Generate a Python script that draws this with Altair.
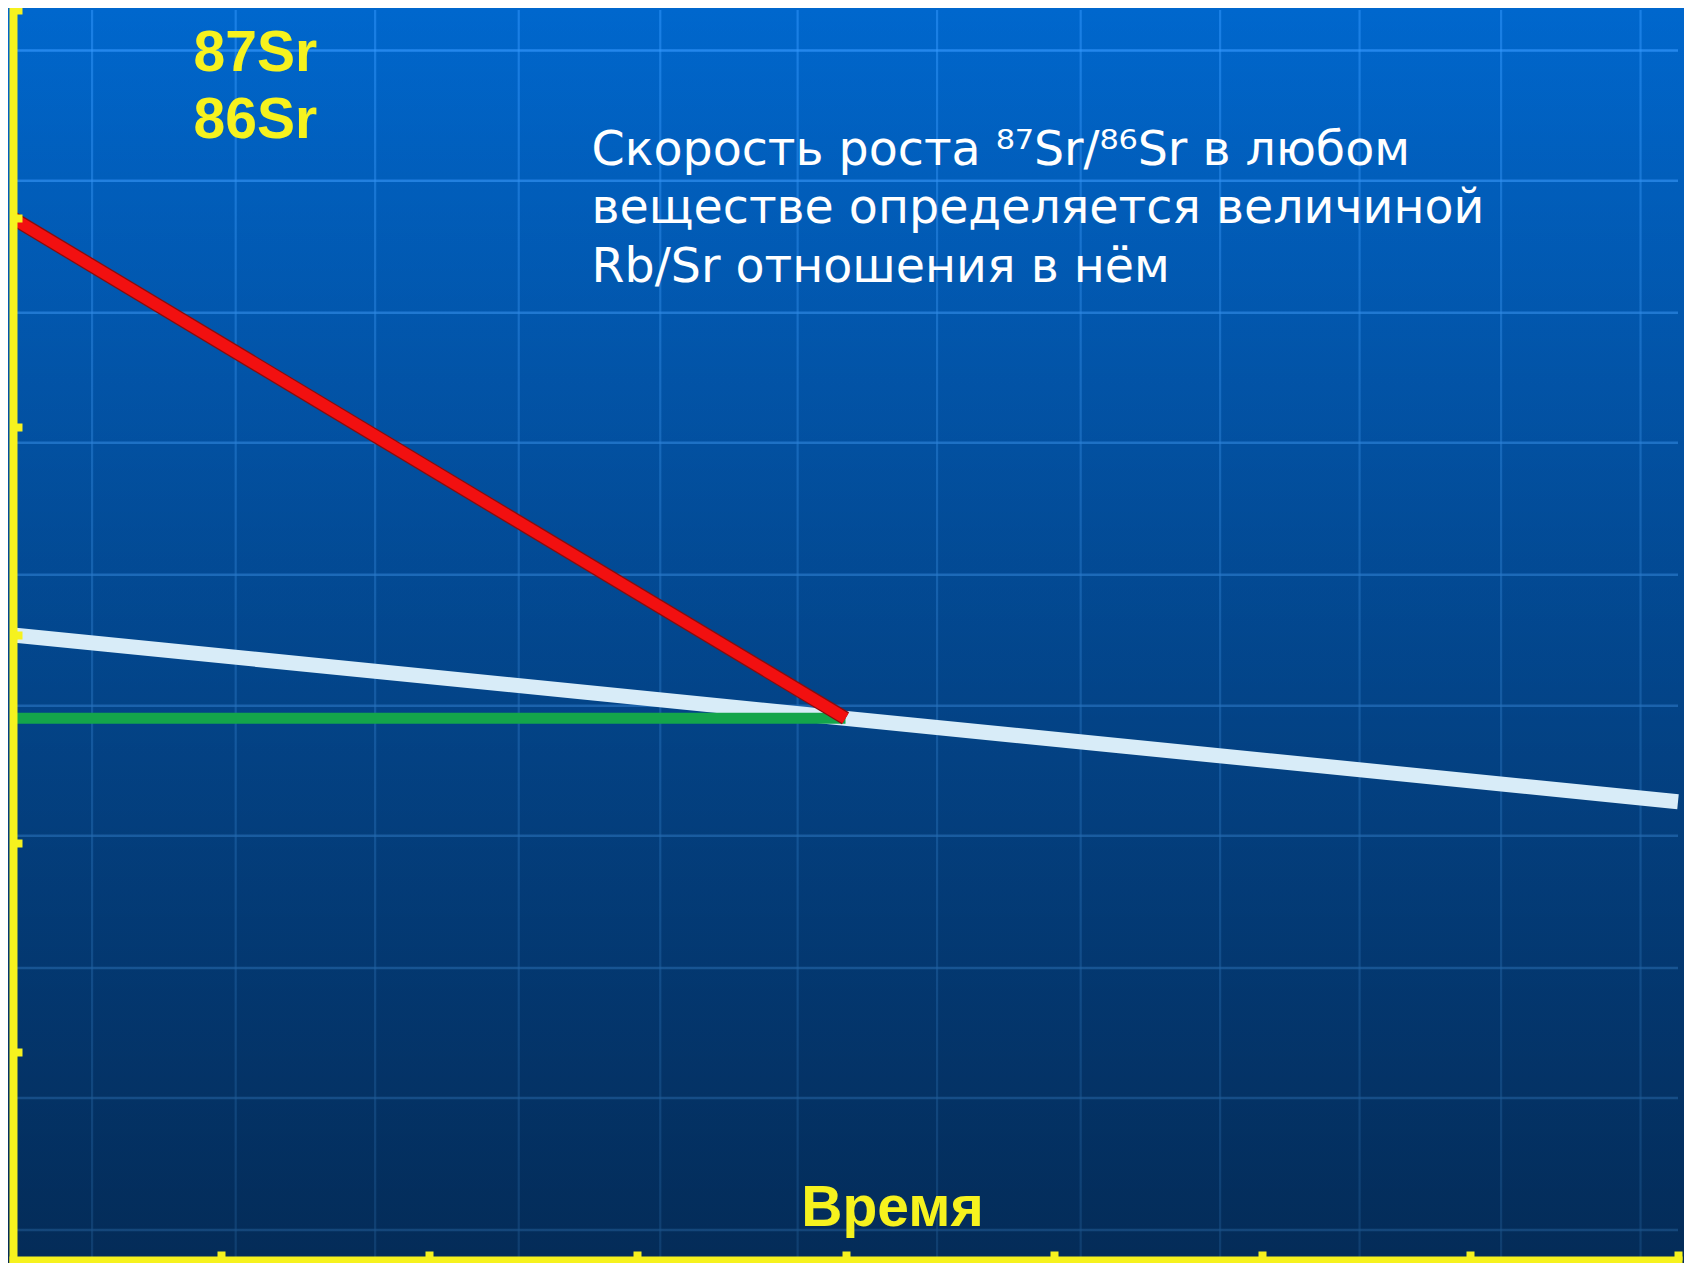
import altair as alt
import pandas as pd

# ---- data (axis units: time 0..8, ratio 0..6) ----
red_x = [0.0, 4.0]
red_y = [5.0, 2.6]
white_x = [0.0, 8.0]
white_y = [3.0, 2.2]
green_x = [0.0, 4.0]
green_y = [2.6, 2.6]

x_tick_values = [1, 2, 3, 4, 5, 6, 7, 8]
y_tick_values = [1, 2, 3, 4, 5, 6]

# decorative background grid of the slide
bg_hlines = [5.806, 5.180, 4.547, 3.923, 3.289, 2.660, 2.036, 1.402, 0.778, 0.144]
bg_vlines = [0.38, 1.07, 1.74, 2.43, 3.11, 3.77, 4.44, 5.13, 5.80, 6.47, 7.15, 7.82]

x_title = "Время"
y_title = ["87Sr", "86Sr"]
note_lines = [
    "Скорость роста ⁸⁷Sr/⁸⁶Sr в любом",
    "веществе определяется величиной",
    "Rb/Sr отношения в нём",
]
note_x = [2.78]
note_y = [5.257]

# ---- layout ----
W, H = 1665, 1250
PAD = {"left": 5, "top": 2, "right": 6, "bottom": 3}
YEL = "#F6F21E"

xs = alt.Scale(domain=[0, 8], nice=False, zero=False)
ys = alt.Scale(domain=[0, 6], nice=False, zero=False)

x_axis = alt.Axis(
    orient="top", offset=-H, values=x_tick_values, labels=False, grid=False,
    domain=True, domainColor=YEL, domainWidth=8, domainCap="square",
    ticks=True, tickColor=YEL, tickWidth=8, tickSize=9,
    title=x_title, titleFont="Liberation Sans", titleFontSize=57,
    titleFontWeight="bold", titleColor=YEL, titleX=879, titleY=-35,
    titleAlign="center", titleBaseline="alphabetic", titleAngle=0, zindex=1,
)
y_axis = alt.Axis(
    orient="right", offset=-W, values=y_tick_values, labels=False, grid=False,
    domain=True, domainColor=YEL, domainWidth=8, domainCap="square",
    ticks=True, tickColor=YEL, tickWidth=8, tickSize=9,
    title=y_title, titleFont="Liberation Sans", titleFontSize=57,
    titleFontWeight="bold", titleColor=YEL, titleX=180, titleY=60,
    titleAlign="left", titleBaseline="alphabetic", titleAngle=0,
    titleLineHeight=67, zindex=1,
)


def X(field):
    return alt.X(f"{field}:Q", scale=xs, axis=x_axis)


def Y(field):
    return alt.Y(f"{field}:Q", scale=ys, axis=y_axis)


bg_grad = alt.LinearGradient(
    gradient="linear", x1=0, y1=0, x2=0, y2=1,
    stops=[alt.GradientStop(offset=0, color="#0067CD"),
           alt.GradientStop(offset=1, color="#0753A8")],
)
shade_grad = alt.LinearGradient(
    gradient="linear", x1=0, y1=0, x2=0, y2=1,
    stops=[alt.GradientStop(offset=0, color="rgba(0,0,0,0)"),
           alt.GradientStop(offset=1, color="rgba(0,0,0,0.48)")],
)

one = pd.DataFrame({"k": [0]})

background = alt.Chart(one).mark_rect(fill=bg_grad, strokeWidth=0).encode(
    x=alt.value(-PAD["left"]), x2=alt.value(W + PAD["right"]),
    y=alt.value(-PAD["top"]), y2=alt.value(H + PAD["bottom"]),
)
shade = alt.Chart(one).mark_rect(fill=shade_grad, strokeWidth=0).encode(
    x=alt.value(-PAD["left"]), x2=alt.value(W + PAD["right"]),
    y=alt.value(-PAD["top"]), y2=alt.value(H + PAD["bottom"]),
)

hgrid = alt.Chart(pd.DataFrame({"gy": bg_hlines})).mark_rule(
    color="#3399FF", opacity=0.7, strokeWidth=2.5
).encode(y=Y("gy"))
vgrid = alt.Chart(pd.DataFrame({"gx": bg_vlines})).mark_rule(
    color="#3399FF", opacity=0.5, strokeWidth=2.2
).encode(x=X("gx"))

white = alt.Chart(pd.DataFrame({"t": white_x, "r": white_y})).mark_line(
    color="#D8ECF8", strokeWidth=15
).encode(x=X("t"), y=Y("r"))
green = alt.Chart(pd.DataFrame({"t": green_x, "r": green_y})).mark_line(
    color="#14A54B", strokeWidth=11
).encode(x=X("t"), y=Y("r"))
red_edge = alt.Chart(pd.DataFrame({"t": red_x, "r": red_y})).mark_line(
    color="#8A0C0C", strokeWidth=14
).encode(x=X("t"), y=Y("r"))
red = alt.Chart(pd.DataFrame({"t": red_x, "r": red_y})).mark_line(
    color="#F21010", strokeWidth=11.5
).encode(x=X("t"), y=Y("r"))

note = alt.Chart(
    alt.Data(values=[{"nx": note_x[0], "ny": note_y[0], "txt": note_lines}])
).mark_text(
    align="left", baseline="alphabetic", font="DejaVu Sans", fontSize=47.5,
    lineHeight=58.5, color="white",
).encode(x=X("nx"), y=Y("ny"), text="txt:N")

chart = alt.layer(
    background, hgrid, vgrid, shade, white, green, red_edge, red, note
).properties(
    width=W, height=H, padding=PAD, autosize="none", background="#0355AA"
).configure_view(stroke=None)

chart.save("out.html", embed_options={"renderer": "svg", "actions": False})
